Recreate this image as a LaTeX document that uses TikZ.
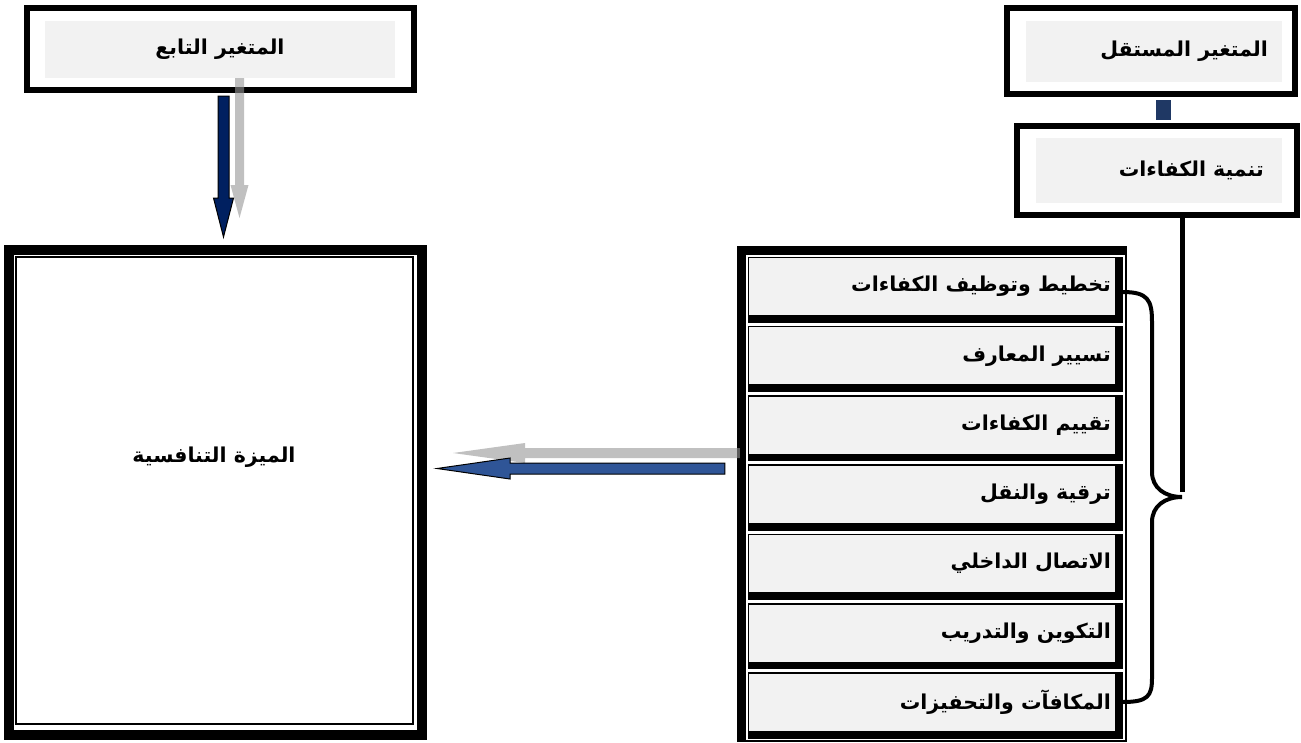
\documentclass[tikz,border=0pt]{standalone}
\usepackage{fontspec}
\usetikzlibrary{calc}
\TeXXeTstate=1
\newfontfamily\arabicfont[Script=Arabic]{DejaVu Sans}
\definecolor{navyA}{HTML}{002060}
\definecolor{navyB}{HTML}{2F5597}
\definecolor{navyC}{HTML}{1F3864}
\definecolor{panelgray}{HTML}{F2F2F2}
\definecolor{shadowgray}{HTML}{969696}

% block arrow pointing down: style, tail, tip, half shaft, half head, head length
\newcommand\blockdown[6]{%
  \path[#1] ($(#2)+(-#4,0)$) -- ($(#3)+(-#4,-#6)$) -- ($(#3)+(-#5,-#6)$) -- (#3)
    -- ($(#3)+(#5,-#6)$) -- ($(#3)+(#4,-#6)$) -- ($(#2)+(#4,0)$) -- cycle;}
% block arrow pointing left: style, tail, tip, half shaft, half head, head length
\newcommand\blockleft[6]{%
  \path[#1] ($(#2)+(0,-#4)$) -- ($(#3)+(#6,-#4)$) -- ($(#3)+(#6,-#5)$) -- (#3)
    -- ($(#3)+(#6,#5)$) -- ($(#3)+(#6,#4)$) -- ($(#2)+(0,#4)$) -- cycle;}

\begin{document}
\begin{tikzpicture}[x=1pt,y=-1pt,
  outbox/.style={draw=black, line width=6pt, fill=white, inner sep=0pt, rectangle},
  panel/.style={fill=panelgray, inner sep=0pt, rectangle},
  txt/.style={font=\arabicfont\bfseries\fontsize{20.5}{24}\selectfont, inner sep=0pt},
  itemframe/.style={draw=white, line width=1.5pt, fill=black, inner sep=0pt,
    minimum width=377pt, minimum height=67.8pt},
  itempanel/.style={panel, minimum width=366pt, minimum height=57pt},
  shadowarrow/.style={fill=shadowgray, fill opacity=0.6},
]
\useasboundingbox (0,0) rectangle (1301,742);

% dependent variable box
\node[outbox, minimum width=387pt, minimum height=82pt] (tb) at (220.5,49) {};
\node[panel, minimum width=350pt, minimum height=57pt] (tbt) at (220,49.5) {};
\node[txt] (tbl) at (220,49.5) {\beginR المتغير التابع\endR};

% competitive advantage box (thick and thin frame)
\node[draw=black, line width=10pt, fill=white, inner sep=0pt,
      minimum width=413pt, minimum height=485pt] (mz) at (215.5,492.5) {};
\node[draw=black, line width=1.5pt, inner sep=0pt,
      minimum width=397pt, minimum height=467pt] (mzin) at (214.5,490.5) {};
\node[txt] (mzl) at (214,457) {\beginR الميزة التنافسية\endR};

% independent variable boxes
\node[outbox, minimum width=288pt, minimum height=86pt] (ms) at (1151,51) {};
\node[panel, minimum width=256pt, minimum height=61pt] (mst) at (1154,51.5) {};
\node[txt, anchor=east] (msl) at (1268,51.5) {\beginR المتغير المستقل\endR};

\node[outbox, minimum width=280pt, minimum height=89pt] (tn) at (1157,170.5) {};
\node[panel, minimum width=246pt, minimum height=65pt] (tnt) at (1159,170.5) {};
\node[txt, anchor=east] (tnl) at (1264,170.5) {\beginR تنمية الكفاءات\endR};

\fill[navyC] ([xshift=5pt,yshift=-3pt]ms.south) rectangle ([xshift=14pt,yshift=3pt]tn.north);

% list of dimensions
\node[fill=black, inner sep=0pt, minimum width=390pt, minimum height=496pt] (lst) at (932,494) {};
\foreach \t [count=\k from 0] in {تخطيط وتوظيف الكفاءات, تسيير المعارف, تقييم الكفاءات,
    ترقية والنقل, الاتصال الداخلي, التكوين والتدريب, المكافآت والتحفيزات}{
  \pgfmathsetmacro\yo{255+69.3*\k}
  \node[itemframe] (f\k) at (935.4,\yo+34.65) {};
  \node[itempanel] (i\k) at (932,\yo+31.5) {};
  \node[txt, anchor=east] (l\k) at (1111,\yo+31.5) {\beginR\t\endR};
}

% brace gathering the dimensions
\coordinate (bt) at (1182,497);
\draw[line width=4pt]
  ([xshift=-2pt]f0.east |- 0,292) .. controls (1148,292) and (1152,300) .. (1152,322)
  -- (1152,472) .. controls (1152,488) and (1165,497) .. (bt)
  .. controls (1165,497) and (1152,506) .. (1152,522)
  -- (1152,678) .. controls (1152,696) and (1148,702) .. ([xshift=-2pt]f6.east |- 0,702);
\draw[line width=5pt] ([xshift=25pt]tn.south) -- ([yshift=5pt]bt);

% arrows
\blockdown{shadowarrow}{[xshift=19.5pt]tbt.south}{[xshift=24pt,yshift=27pt]mz.north}{4.5}{9}{33}
\blockdown{draw=black, line width=1pt, fill=navyA}{[xshift=3pt,yshift=-3pt]tb.south}{[xshift=8pt,yshift=8pt]mz.north}{5.5}{10}{39}
\blockleft{shadowarrow}{[xshift=3pt,yshift=41pt]lst.west}{[xshift=26pt,yshift=39.5pt]mz.east}{5}{10}{72}
\blockleft{draw=black, line width=1pt, fill=navyB}{[xshift=-12pt,yshift=25.5pt]lst.west}{[xshift=10pt,yshift=24pt]mz.east}{5.5}{10.5}{73}
\end{tikzpicture}
\end{document}
